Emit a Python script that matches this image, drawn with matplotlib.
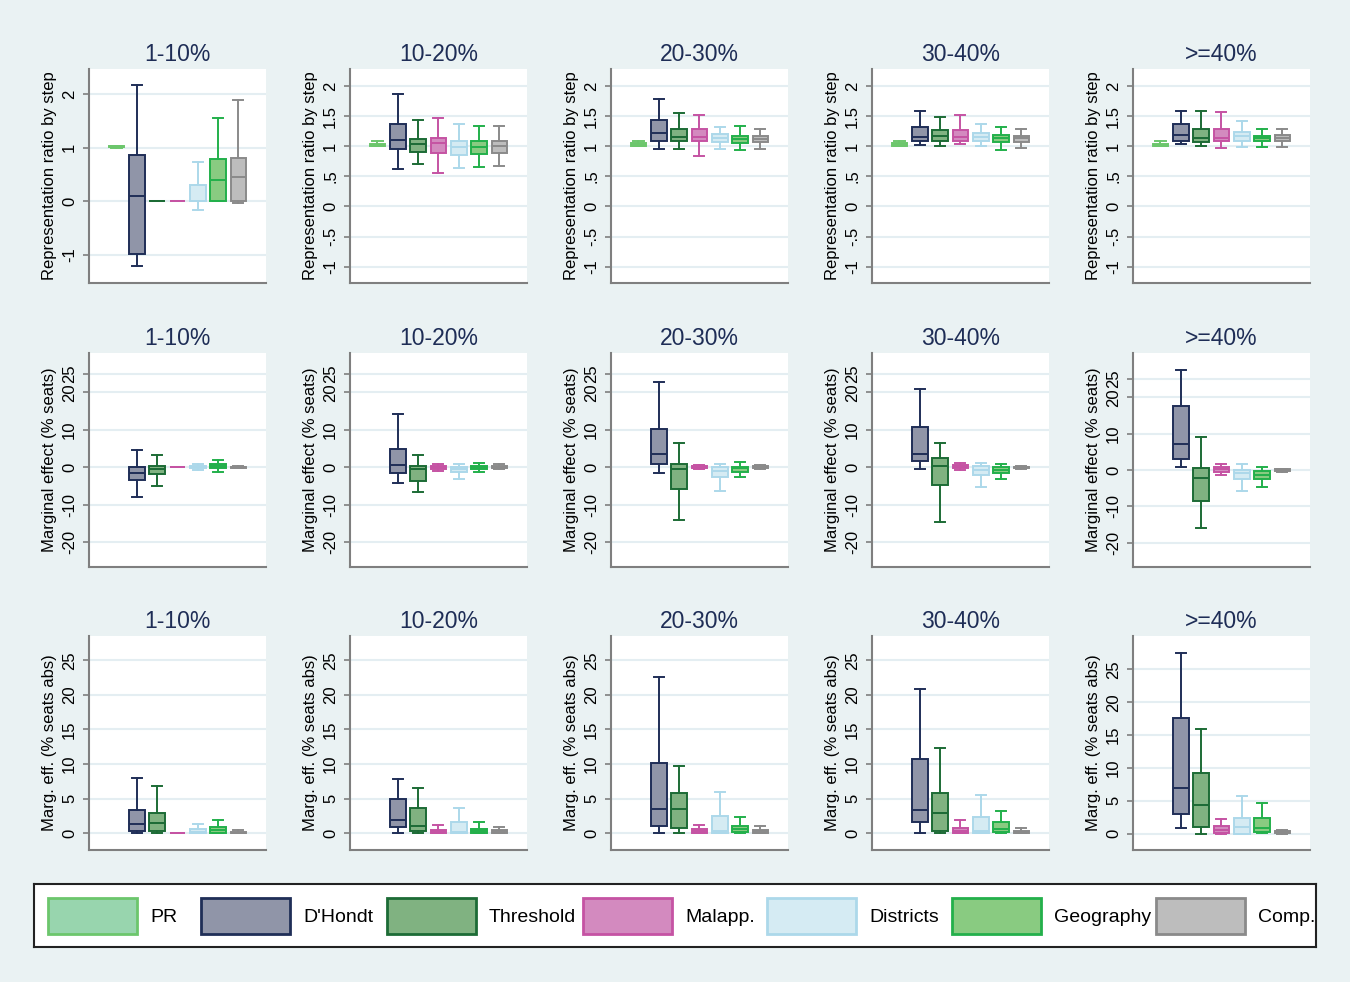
"""Box plots of representation ratios and marginal effects by vote-share group."""

import matplotlib
matplotlib.use('Agg')
import matplotlib.pyplot as plt
from matplotlib.patches import Rectangle

plt.rcParams['font.family'] = ['Liberation Sans', 'DejaVu Sans']

series = ['PR', "D'Hondt", 'Threshold', 'Malapp.', 'Districts', 'Geography', 'Comp.']
fills = ['#98D5AE', '#9095A8', '#80B281', '#D38ABF', '#D5EBF3', '#89CB81', '#BDBDBD']
edges = ['#6CC66C', '#1F2E57', '#1C6B35', '#C553A3', '#ACD8EA', '#23B04B', '#8A8A8A']
groups = ['1-10%', '10-20%', '20-30%', '30-40%', '>=40%']

# one row per series: [whisker low, q1, median, q3, whisker high]; None = not drawn
ratio_1_10 = [[1.0, 1.01, 1.02, 1.03, 1.04],
              [-1.21, -0.97, 0.10, 0.86, 2.18],
              [0, 0, 0, 0, 0],
              [0, 0, 0, 0, 0],
              [-0.15, 0.0, 0.01, 0.30, 0.74],
              [0, 0, 0.40, 0.79, 1.55],
              [-0.02, 0, 0.46, 0.81, 1.89]]
ratio_10_20 = [[1.0, 1.0, 1.02, 1.04, 1.08],
               [0.62, 0.96, 1.10, 1.36, 1.87],
               [0.71, 0.90, 1.04, 1.12, 1.43],
               [0.56, 0.89, 1.05, 1.13, 1.46],
               [0.64, 0.86, 0.99, 1.09, 1.36],
               [0.65, 0.87, 0.98, 1.09, 1.34],
               [0.67, 0.89, 1.00, 1.09, 1.34]]
ratio_20_30 = [[1.0, 1.0, 1.02, 1.05, 1.08],
               [0.95, 1.09, 1.22, 1.43, 1.78],
               [0.95, 1.09, 1.16, 1.28, 1.55],
               [0.84, 1.08, 1.16, 1.29, 1.52],
               [0.95, 1.07, 1.13, 1.21, 1.32],
               [0.93, 1.06, 1.12, 1.17, 1.33],
               [0.96, 1.07, 1.12, 1.17, 1.28]]
ratio_30_40 = [[1.0, 1.0, 1.03, 1.05, 1.09],
               [1.02, 1.08, 1.16, 1.31, 1.59],
               [1.01, 1.08, 1.17, 1.26, 1.49],
               [1.03, 1.08, 1.16, 1.27, 1.51],
               [1.00, 1.08, 1.15, 1.22, 1.36],
               [0.94, 1.07, 1.13, 1.18, 1.32],
               [0.97, 1.07, 1.13, 1.17, 1.29]]
ratio_40 = [[1.0, 1.0, 1.02, 1.04, 1.08],
            [1.04, 1.09, 1.19, 1.37, 1.58],
            [1.00, 1.07, 1.13, 1.29, 1.58],
            [0.97, 1.09, 1.13, 1.28, 1.56],
            [0.98, 1.09, 1.17, 1.23, 1.41],
            [0.99, 1.08, 1.13, 1.17, 1.29],
            [0.98, 1.08, 1.13, 1.18, 1.28]]

marg_1_10 = [None,
             [-8.0, -3.3, -1.4, 0.1, 4.7],
             [-4.9, -1.8, -0.5, 0.4, 3.3],
             [0, 0, 0, 0, 0],
             [-0.6, -0.3, 0.1, 0.45, 0.8],
             [-1.3, -0.2, 0.35, 0.9, 2.05],
             [-0.3, -0.1, 0.0, 0.2, 0.35]]
marg_10_20 = [None,
              [-4.3, -1.4, 0.5, 5.0, 14.2],
              [-6.6, -3.75, -0.4, 0.3, 3.2],
              [-0.9, -0.45, 0.0, 0.35, 0.9],
              [-3.0, -1.35, -0.45, 0.0, 0.8],
              [-1.25, -0.45, 0.0, 0.35, 1.1],
              [-0.35, -0.2, 0.15, 0.35, 0.8]]
marg_20_30 = [None,
              [-1.5, 1.0, 3.6, 10.1, 22.7],
              [-14.1, -5.9, -0.4, 0.8, 6.4],
              [-0.5, -0.25, 0.1, 0.35, 0.6],
              [-6.2, -2.5, -1.05, 0.0, 0.8],
              [-2.7, -1.15, -0.25, 0.1, 1.4],
              [-0.5, -0.25, 0.0, 0.25, 0.5]]
marg_30_40 = [None,
              [-0.5, 1.6, 3.5, 10.7, 20.8],
              [-14.7, -4.8, 0.3, 2.4, 6.4],
              [-0.7, -0.3, 0.1, 0.5, 1.2],
              [-5.3, -2.1, -0.8, 0.3, 1.1],
              [-3.2, -1.6, -0.6, 0.0, 0.8],
              [-0.4, -0.15, 0.0, 0.15, 0.3]]
marg_40 = [None,
           [0.9, 3.1, 7.2, 17.6, 27.5],
           [-16.1, -8.6, -2.3, 0.65, 9.2],
           [-1.4, -0.45, 0.35, 0.75, 1.55],
           [-5.8, -2.4, -0.8, 0.1, 1.65],
           [-4.7, -2.4, -1.4, -0.2, 0.75],
           [-0.55, -0.3, -0.1, 0.2, 0.35]]

abs_1_10 = [None,
            [0, 0.29, 1.35, 3.38, 7.96],
            [0, 0.29, 1.5, 2.94, 6.8],
            [0, 0, 0, 0, 0],
            [0, 0, 0.15, 0.58, 1.3],
            [0, 0.05, 0.48, 0.87, 2.0],
            [0, 0, 0.1, 0.24, 0.43]]
abs_10_20 = [None,
             [0.1, 0.97, 2.0, 4.9, 7.9],
             [0, 0.39, 1.06, 3.6, 6.5],
             [0, 0.05, 0.29, 0.48, 1.16],
             [0, 0, 0.19, 1.64, 3.67],
             [0, 0.05, 0.39, 0.68, 1.6],
             [0, 0.05, 0.29, 0.43, 0.87]]
abs_20_30 = [None,
             [0, 1.01, 3.57, 10.1, 22.6],
             [0, 0.72, 3.57, 5.9, 9.75],
             [0, 0.05, 0.29, 0.58, 1.16],
             [0, 0, 0.39, 2.46, 6.0],
             [0, 0.24, 0.58, 1.06, 2.3],
             [0, 0.1, 0.34, 0.53, 1.0]]
abs_30_40 = [None,
             [0, 1.69, 3.33, 10.7, 20.9],
             [0, 0.39, 2.9, 5.8, 12.3],
             [0, 0.05, 0.29, 0.82, 1.88],
             [0, 0, 0.39, 2.36, 5.55],
             [0, 0.15, 0.58, 1.69, 3.2],
             [0, 0.05, 0.19, 0.39, 0.72]]
abs_40 = [None,
          [0.8, 3.0, 7.0, 17.6, 27.5],
          [0, 0.97, 4.3, 9.2, 16.0],
          [0, 0.05, 0.56, 1.22, 2.24],
          [0, 0, 0.97, 2.3, 5.7],
          [0.05, 0.3, 0.92, 2.44, 4.7],
          [0, 0.05, 0.25, 0.4, 0.6]]

rows = [
    ('Representation ratio by step',
     [ratio_1_10, ratio_10_20, ratio_20_30, ratio_30_40, ratio_40]),
    ('Marginal effect (% seats)',
     [marg_1_10, marg_10_20, marg_20_30, marg_30_40, marg_40]),
    ('Marg. eff. (% seats abs)',
     [abs_1_10, abs_10_20, abs_20_30, abs_30_40, abs_40]),
]

ticks_r1a = [-1, 0, 1, 2]
ticks_r1 = [-1, -0.5, 0, 0.5, 1, 1.5, 2]
labels_r1 = ['-1', '-.5', '0', '.5', '1', '1.5', '2']
ticks_r2 = [-20, -10, 0, 10, 20, 25]
ticks_r3 = [0, 5, 10, 15, 20, 25]

BG = '#EAF2F3'
AXIS = '#7F7F7F'
W, H = 1350, 982


def draw_panel(ax, stats, title, ylabel, ylim, yticks, yticklabels):
    ax.set_facecolor('white')
    items, pos = [], []
    for i, s in enumerate(stats):
        if s is None:
            continue
        lo, q1, med, q3, hi = s
        items.append(dict(whislo=lo, q1=q1, med=med, q3=q3, whishi=hi, fliers=[]))
        pos.append(i + 1)
    art = ax.bxp(items, positions=pos, widths=0.77, capwidths=0.5,
                 patch_artist=True, showfliers=False)
    for k, p in enumerate(pos):
        fc, ec = fills[p - 1], edges[p - 1]
        art['boxes'][k].set(facecolor=fc, edgecolor=ec, linewidth=1.4)
        art['medians'][k].set(color=ec, linewidth=1.4)
        for ln in art['whiskers'][2 * k:2 * k + 2] + art['caps'][2 * k:2 * k + 2]:
            ln.set(color=ec, linewidth=1.4)

    ax.set_xlim(-0.35, 8.36)
    ax.set_ylim(*ylim)
    ax.set_xticks([])
    ax.set_yticks(yticks)
    ax.set_yticklabels(yticklabels)
    for lab in ax.get_yticklabels():
        lab.set_rotation(90)
        lab.set_va('center')
    ax.set_axisbelow(True)
    ax.yaxis.grid(True, color='#E4EEF2', linewidth=1.5)
    for side in ('top', 'right'):
        ax.spines[side].set_visible(False)
    for side in ('left', 'bottom'):
        ax.spines[side].set_color(AXIS)
        ax.spines[side].set_linewidth(1.5)
    ax.tick_params(axis='y', direction='out', length=4.5, width=1.2,
                   color=AXIS, labelsize=12, pad=4)
    ax.set_title(title, fontsize=16.5, color='#1E2D56', pad=6)
    ax.set_ylabel(ylabel, fontsize=12)
    ax.yaxis.set_label_coords(-0.18, 0.5)


def main():
    fig = plt.figure(figsize=(W / 100, H / 100), dpi=100, facecolor=BG)

    lefts = [89, 350, 611, 872, 1133]
    tops = [69, 353, 636]
    aw, ah = 177, 214

    for r, (ylabel, panels) in enumerate(rows):
        for c, stats in enumerate(panels):
            ax = fig.add_axes([lefts[c] / W, 1 - (tops[r] + ah) / H, aw / W, ah / H])
            if r == 0:
                if c == 0:
                    ylim, yt, yl = (-1.52, 2.47), ticks_r1a, [str(t) for t in ticks_r1a]
                else:
                    ylim, yt, yl = (-1.27, 2.28), ticks_r1, labels_r1
            elif r == 1:
                ylim = (-26.7, 32.2) if c == 4 else (-26.6, 30.5)
                yt, yl = ticks_r2, [str(t) for t in ticks_r2]
            else:
                ylim = (-2.5, 30.1) if c == 4 else (-2.4, 28.5)
                yt, yl = ticks_r3, [str(t) for t in ticks_r3]
            draw_panel(ax, stats, groups[c], ylabel, ylim, yt, yl)

    # legend box
    lx0, ly0, lw, lh = 34, 884, 1282, 63
    lax = fig.add_axes([lx0 / W, 1 - (ly0 + lh) / H, lw / W, lh / H])
    lax.set_xlim(0, lw)
    lax.set_ylim(0, lh)
    lax.set_xticks([])
    lax.set_yticks([])
    lax.set_facecolor('white')
    for sp in lax.spines.values():
        sp.set_color('#222222')
        sp.set_linewidth(1.5)
    patch_x = [14, 167, 352.5, 549, 733, 917.6, 1122]
    for name, fc, ec, px in zip(series, fills, edges, patch_x):
        lax.add_patch(Rectangle((px, 13), 89, 36, facecolor=fc, edgecolor=ec,
                                linewidth=2))
        lax.text(px + 102, 31, name, fontsize=14, va='center_baseline', ha='left')

    fig.savefig('out.png', dpi=100, facecolor=BG)


if __name__ == '__main__':
    main()
